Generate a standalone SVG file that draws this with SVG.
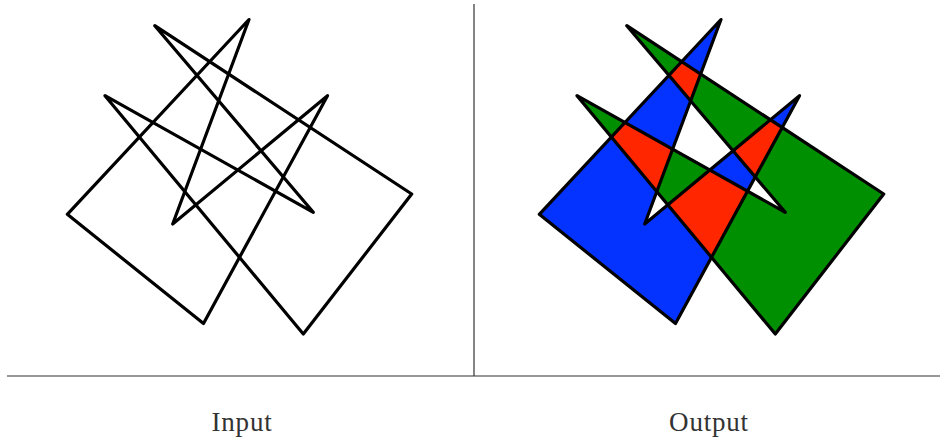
<svg xmlns="http://www.w3.org/2000/svg" xmlns:xlink="http://www.w3.org/1999/xlink" width="940" height="440" viewBox="0 0 940 440">
<style>
.outline{fill:none;stroke:#000;stroke-width:3.2;stroke-linejoin:round}
.rule{stroke:#333;stroke-width:1.2;fill:none}
.label{font-family:"Liberation Serif","DejaVu Serif",serif;font-size:27px;fill:#333;text-anchor:middle}
</style>
<defs>
<polygon id="pa" points="249,19.5 67.3,214.3 203.5,323.5 327.5,95.7 172.7,224"/>
<polygon id="pb" points="154.8,25.7 411.7,194 303.3,334 105,95.7 313.3,212.3"/>
<clipPath id="clipB"><use xlink:href="#pb" transform="translate(472,0)"/></clipPath>
</defs>
<g id="connectors">
<line class="rule" x1="474" y1="4" x2="474" y2="376"/>
<line class="rule" x1="7" y1="376" x2="940" y2="376"/>
</g>
<g id="input">
<use xlink:href="#pa" class="outline"/>
<use xlink:href="#pb" class="outline"/>
<text class="label" x="242" y="431" letter-spacing="0.8">Input</text>
</g>
<g id="output" transform="translate(472,0)">
<use xlink:href="#pa" fill="#0433FF"/>
<use xlink:href="#pb" fill="#008F00"/>
<g clip-path="url(#clipB)" transform="translate(-472,0)"><use xlink:href="#pa" fill="#FF2600" transform="translate(472,0)"/></g>
<use xlink:href="#pa" class="outline"/>
<use xlink:href="#pb" class="outline"/>
<text class="label" x="237" y="431" letter-spacing="0.8">Output</text>
</g>
</svg>
